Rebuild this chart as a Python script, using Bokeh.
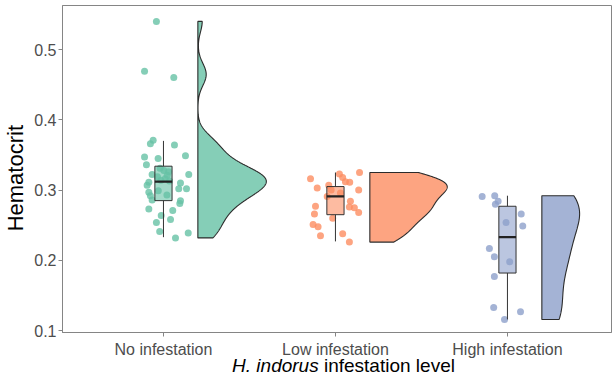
import numpy as np
from bokeh.plotting import figure
from bokeh.models import FixedTicker, ColumnDataSource, Range1d, Div
from bokeh.layouts import column
from bokeh.embed import file_html
from bokeh.resources import INLINE

# ---------------- data ----------------
categories = ["No infestation", "Low infestation", "High infestation"]
colors = ["#66c2a5", "#fc8d62", "#8da0cb"]

no_vals = [0.540, 0.469, 0.460, 0.371, 0.366, 0.364, 0.347, 0.349, 0.345, 0.336,
           0.328, 0.322, 0.322, 0.321, 0.311, 0.310, 0.307, 0.302, 0.302, 0.297,
           0.292, 0.285, 0.281, 0.286, 0.273, 0.271, 0.264, 0.258, 0.254, 0.241,
           0.239, 0.232,
           # points largely hidden behind the box
           0.293, 0.299, 0.313, 0.314, 0.316, 0.319, 0.326, 0.331]
no_jit = [-0.041, -0.110, 0.060, -0.060, -0.076, 0.064, -0.110, 0.128, -0.031, -0.099,
          0.002, 0.147, -0.066, 0.022, -0.085, 0.099, -0.095, 0.089, 0.134, -0.085,
          -0.076, 0.099, 0.095, -0.066, -0.085, 0.054, -0.013, 0.041, -0.041, -0.022,
          0.144, 0.070,
          0.020, -0.030, 0.035, -0.015, 0.010, -0.035, 0.030, -0.020]

low_vals = [0.316, 0.323, 0.318, 0.325, 0.312, 0.311, 0.307, 0.303, 0.300, 0.300,
            0.296, 0.291, 0.284, 0.277, 0.276, 0.275, 0.268, 0.266, 0.260, 0.251,
            0.248, 0.235, 0.238, 0.226]
low_jit = [-0.145, 0.023, 0.042, 0.140, 0.058, 0.083, -0.039, -0.106, -0.025, 0.135,
           0.029, -0.048, 0.087, -0.116, 0.081, 0.110, 0.135, -0.122, -0.016, -0.130,
           -0.101, -0.087, 0.042, 0.081]

high_vals = [0.291, 0.292, 0.284, 0.280, 0.266, 0.254, 0.249, 0.217, 0.205, 0.198,
             0.177, 0.133, 0.127, 0.116]
high_jit = [-0.147, -0.074, -0.054, -0.070, 0.080, -0.008, 0.089, -0.105, -0.076, 0.013,
            -0.076, -0.080, 0.076, -0.017]

# box statistics: lower whisker, Q1, median, Q3, upper whisker
box_lo = [0.233, 0.227, 0.116]
box_q1 = [0.285, 0.265, 0.182]
box_med = [0.312, 0.291, 0.233]
box_q3 = [0.334, 0.305, 0.277]
box_hi = [0.370, 0.325, 0.292]

y_ticks = [0.1, 0.2, 0.3, 0.4, 0.5]

groups = [(no_vals, no_jit), (low_vals, low_jit), (high_vals, high_jit)]

# ---------------- figure ----------------
p = figure(width=613, height=360, output_backend="svg", toolbar_location=None,
           x_range=Range1d(0.413, 3.605), y_range=Range1d(0.0974, 0.5626),
           min_border_left=62, min_border_right=2, min_border_top=5, min_border_bottom=28)
p.background_fill_color = "white"
p.border_fill_color = "white"
p.xgrid.visible = False
p.ygrid.visible = False
p.outline_line_color = "#858585"
p.outline_line_width = 1


def kde(vals):
    v = np.asarray(vals, dtype=float)
    n = len(v)
    sd = v.std(ddof=1)
    q75, q25 = np.percentile(v, [75, 25])
    bw = 0.9 * min(sd, (q75 - q25) / 1.34) * n ** -0.2
    ys = np.linspace(v.min(), v.max(), 512)
    d = np.exp(-0.5 * ((ys[:, None] - v[None, :]) / bw) ** 2).sum(1) / (n * bw * np.sqrt(2 * np.pi))
    return ys, d


dens = [kde(g[0]) for g in groups]
dmax = max(d.max() for _, d in dens)

VIOLIN_NUDGE = 0.2
VIOLIN_WIDTH = 0.45
BOX_HALF = 0.05

# violins
for i, ((ys, d), col) in enumerate(zip(dens, colors)):
    base = i + 1 + VIOLIN_NUDGE
    w = VIOLIN_WIDTH * d / dmax
    xs = np.concatenate([[base], base + w, [base]])
    yy = np.concatenate([[ys[0]], ys, [ys[-1]]])
    p.patch(xs, yy, fill_color=col, fill_alpha=0.8, line_color="#2b2b2b", line_width=1.1)

# jittered points
for i, ((vals, jit), col) in enumerate(zip(groups, colors)):
    src = ColumnDataSource(dict(x=[i + 1 + j for j in jit], y=vals))
    p.scatter("x", "y", source=src, size=7, fill_color=col, fill_alpha=0.8, line_color=None)

# boxplots
cx = [i + 1 for i in range(len(categories))]
bsrc = ColumnDataSource(dict(
    x=cx, left=[c - BOX_HALF for c in cx], right=[c + BOX_HALF for c in cx],
    lo=box_lo, q1=box_q1, med=box_med, q3=box_q3, hi=box_hi, col=colors))
p.segment(x0="x", y0="lo", x1="x", y1="q1", source=bsrc, line_color="#333333", line_width=1)
p.segment(x0="x", y0="q3", x1="x", y1="hi", source=bsrc, line_color="#333333", line_width=1)
p.quad(left="left", right="right", bottom="q1", top="q3", source=bsrc,
       fill_color="col", fill_alpha=0.6, line_color="#333333", line_width=1)
p.segment(x0="left", y0="med", x1="right", y1="med", source=bsrc, line_color="#222222", line_width=2.2)

# axes
for ax in (p.xaxis[0], p.yaxis[0]):
    ax.axis_line_color = "#858585"
    ax.major_tick_line_color = "#858585"
    ax.minor_tick_line_color = None
    ax.major_tick_in = 0
    ax.major_tick_out = 4
    ax.major_label_text_font = "Liberation Sans"
    ax.major_label_text_font_size = "16px"
    ax.major_label_text_color = "#4d4d4d"

p.xaxis.ticker = FixedTicker(ticks=cx)
p.xaxis.major_label_overrides = {c: lab for c, lab in zip(cx, categories)}
p.xaxis.major_label_standoff = 4
p.yaxis.ticker = FixedTicker(ticks=y_ticks)
p.yaxis.major_label_standoff = 2
p.yaxis.axis_label = "Hematocrit\u00a0\u00a0\u00a0"
p.yaxis.axis_label_text_font = "Liberation Sans"
p.yaxis.axis_label_text_font_style = "normal"
p.yaxis.axis_label_text_font_size = "22px"
p.yaxis.axis_label_text_color = "black"
p.yaxis.axis_label_standoff = 3

# x-axis title with an italic species name
xtitle = Div(text=('<div style="width:549px;margin-left:64px;text-align:center;'
                   'font-family:\'Liberation Sans\';font-size:19px;line-height:22px;'
                   'color:#000;white-space:nowrap"><i>H. indorus</i> infestation level</div>'),
             width=613, height=23, styles={"margin-top": "-5px"})

layout = column(p, xtitle, spacing=0)
open("out.html", "w").write(file_html(layout, INLINE))
